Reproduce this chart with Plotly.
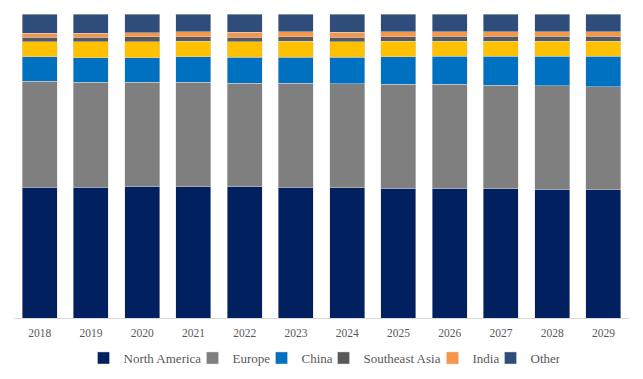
import plotly.graph_objects as go

years = ["2018", "2019", "2020", "2021", "2022", "2023", "2024", "2025", "2026", "2027", "2028", "2029"]

north_america = [43.0, 43.0, 43.4, 43.2, 43.1, 43.0, 42.8, 42.7, 42.6, 42.4, 42.3, 42.2]
europe = [34.8, 34.5, 34.1, 34.3, 34.2, 34.2, 34.2, 34.2, 34.1, 34.1, 34.0, 33.8]
china = [8.0, 8.1, 8.1, 8.4, 8.4, 8.6, 8.8, 9.0, 9.2, 9.4, 9.6, 9.9]
unlabeled = [5.0, 5.3, 5.3, 5.1, 5.2, 5.2, 5.1, 5.2, 5.0, 5.0, 5.0, 5.0]
southeast_asia = [1.4, 1.4, 1.6, 1.5, 1.5, 1.5, 1.5, 1.5, 1.6, 1.6, 1.6, 1.6]
india = [1.45, 1.45, 1.3, 1.6, 1.6, 1.6, 1.6, 1.6, 1.45, 1.45, 1.45, 1.45]
other = [6.25, 6.25, 6.2, 5.8, 6.0, 5.9, 6.0, 5.8, 5.9, 5.9, 5.9, 5.9]

# (name, values, colour, in legend, legend entry width in px)
series = [
    ("North America", north_america, "#002060", True, 64),
    ("Europe", europe, "#7F7F7F", True, 24),
    ("China", china, "#0070C0", True, 17),
    ("Japan", unlabeled, "#FFC000", False, None),
    ("Southeast Asia", southeast_asia, "#595959", True, 64),
    ("India", india, "#F79646", True, 13),
    ("Other", other, "#2E4D7B", True, 24),
]

fig = go.Figure()
for name, vals, color, show, lw in series:
    fig.add_trace(go.Bar(
        x=years, y=vals, name=name, showlegend=show, legendwidth=lw,
        marker=dict(color=color, line=dict(width=0.6, color="rgba(217,217,217,0.8)")),
    ))

fig.update_layout(
    width=643, height=379,
    margin=dict(l=14, r=14, t=14, b=61, autoexpand=False),
    barmode="stack", barnorm="percent", bargap=0.32,
    plot_bgcolor="white", paper_bgcolor="white",
    font=dict(family="Liberation Serif, Times New Roman, serif", color="#595959", size=13),
    xaxis=dict(showline=True, linecolor="#D9D9D9", linewidth=1, ticks="",
               ticklabelstandoff=4,
               tickfont=dict(size=11.5, color="#595959"), showgrid=False),
    yaxis=dict(visible=False, range=[0, 100]),
    legend=dict(orientation="h", x=0.5, xanchor="center", xref="container",
                y=0.0554, yanchor="middle", yref="container", traceorder="normal",
                font=dict(size=13, color="#595959"), itemwidth=30, tracegroupgap=0),
)

fig.write_html("out.html", config={"displayModeBar": False},
               post_script="document.body.style.margin='0';")
